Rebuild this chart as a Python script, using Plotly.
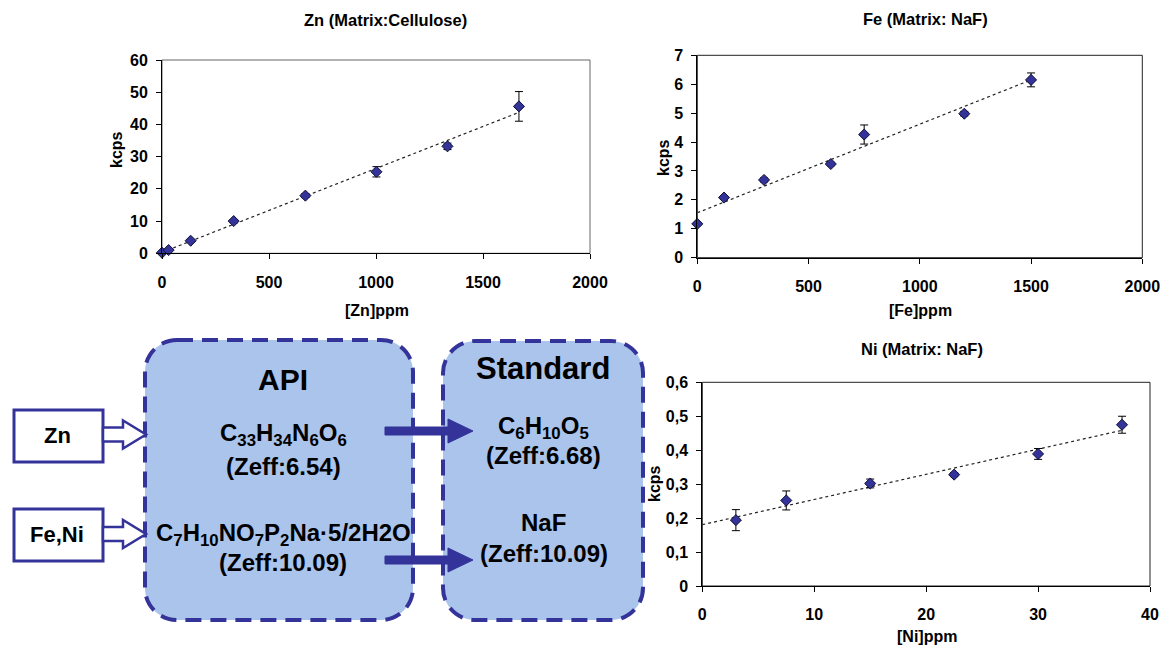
import numpy as np
import plotly.graph_objects as go

W, H = 1176, 645
FONT = "Liberation Sans, Arial, sans-serif"
NAVY = "#333399"

# ---------------- data ----------------
zn_ppm = [0, 31, 134, 335, 670, 1002, 1334, 1668]
zn_kcps = [0.2, 1.0, 3.9, 10.0, 17.9, 25.3, 33.2, 45.6]
zn_err = [0.3, 0.3, 0.4, 0.5, 0.6, 1.6, 1.0, 4.6]

fe_ppm = [0, 120, 300, 600, 750, 1200, 1500]
fe_kcps = [1.17, 2.08, 2.69, 3.24, 4.26, 4.98, 6.15]
fe_err = [0.05, 0.06, 0.07, 0.06, 0.33, 0.08, 0.24]

ni_ppm = [3, 7.5, 15, 22.5, 30, 37.5]
ni_kcps = [0.194, 0.252, 0.302, 0.328, 0.389, 0.475]
ni_err = [0.031, 0.028, 0.013, 0.006, 0.016, 0.025]

ni_tickvals = [0, 0.1, 0.2, 0.3, 0.4, 0.5, 0.6]
ni_ticktext = ["0", "0,1", "0,2", "0,3", "0,4", "0,5", "0,6"]

titles = ["Zn (Matrix:Cellulose)", "Fe (Matrix: NaF)", "Ni (Matrix: NaF)"]
xtitles = ["[Zn]ppm", "[Fe]ppm", "[Ni]ppm"]
ytitle = "kcps"

# ---------------- helpers ----------------
def px(x):
    return x / W

def py(y):
    return 1 - y / H

def trend(x, y):
    m, b = np.polyfit(x, y, 1)
    xs = np.array([0.0, float(max(x))])
    return xs, m * xs + b

fig = go.Figure()

panels = [
    (zn_ppm, zn_kcps, zn_err, "x", "y"),
    (fe_ppm, fe_kcps, fe_err, "x2", "y2"),
    (ni_ppm, ni_kcps, ni_err, "x3", "y3"),
]
for xs, ys, es, xa, ya in panels:
    tx, ty = trend(xs, ys)
    fig.add_trace(go.Scatter(x=tx, y=ty, mode="lines", xaxis=xa, yaxis=ya,
                             line=dict(color="#222222", width=1.2, dash="dot"),
                             showlegend=False, hoverinfo="skip"))
    fig.add_trace(go.Scatter(x=xs, y=ys, mode="markers", xaxis=xa, yaxis=ya,
                             cliponaxis=False,
                             marker=dict(symbol="diamond", size=8.5, color=NAVY,
                                         line=dict(color="#111133", width=1)),
                             error_y=dict(type="data", array=es, visible=True,
                                          color="black", thickness=1, width=4),
                             showlegend=False))

tickfont = dict(family=FONT, size=16, color="black", weight="bold")

def xaxis(domain, rng, dtick, anchor):
    return dict(domain=domain, range=rng, dtick=dtick, anchor=anchor,
                showline=True, linecolor="black", linewidth=1,
                ticks="outside", ticklen=5, tickcolor="black",
                showgrid=False, zeroline=False, tickfont=tickfont,
                ticklabelstandoff=9, fixedrange=True)

def yaxis(domain, rng, dtick, anchor, **kw):
    d = dict(domain=domain, range=rng, dtick=dtick, anchor=anchor,
             showline=True, linecolor="black", linewidth=1,
             ticks="outside", ticklen=5, tickcolor="black",
             showgrid=False, zeroline=False, tickfont=tickfont,
             ticklabelstandoff=5, fixedrange=True)
    d.update(kw)
    return d

fig.update_layout(
    width=W, height=H,
    margin=dict(l=0, r=0, t=0, b=0, autoexpand=False),
    paper_bgcolor="white", plot_bgcolor="white",
    xaxis=xaxis([px(162), px(590)], [0, 2000], 500, "y"),
    yaxis=yaxis([py(253.3), py(60)], [0, 60], 10, "x"),
    xaxis2=xaxis([px(697.3), px(1142.3)], [0, 2000], 500, "y2"),
    yaxis2=yaxis([py(257.7), py(55.3)], [0, 7], 1, "x2"),
    xaxis3=xaxis([px(702.3), px(1150)], [0, 40], 10, "y3"),
    yaxis3=yaxis([py(586), py(382.3)], [0, 0.6], None, "x3",
                 tickmode="array", tickvals=ni_tickvals, ticktext=ni_ticktext),
)

shapes = []
for xa, ya, col in [("x", "y", "#666666"), ("x2", "y2", "#222222"), ("x3", "y3", "#222222")]:
    shapes.append(dict(type="rect", xref=f"{xa} domain", yref=f"{ya} domain",
                       x0=0, x1=1, y0=0, y1=1, line=dict(color=col, width=1),
                       layer="below"))

def rounded_path(x0, y0, x1, y1, r):
    k = 0.5523 * r
    P = lambda x, y: f"{px(x):.5f},{py(y):.5f}"
    return (f"M {P(x0 + r, y0)} L {P(x1 - r, y0)} "
            f"C {P(x1 - r + k, y0)} {P(x1, y0 + r - k)} {P(x1, y0 + r)} "
            f"L {P(x1, y1 - r)} "
            f"C {P(x1, y1 - r + k)} {P(x1 - r + k, y1)} {P(x1 - r, y1)} "
            f"L {P(x0 + r, y1)} "
            f"C {P(x0 + r - k, y1)} {P(x0, y1 - r + k)} {P(x0, y1 - r)} "
            f"L {P(x0, y0 + r)} "
            f"C {P(x0, y0 + r - k)} {P(x0 + r - k, y0)} {P(x0 + r, y0)} Z")

def poly(points):
    s = " L ".join(f"{px(x):.5f},{py(y):.5f}" for x, y in points)
    return f"M {s} Z"

FILL = "#AAC4EC"
for box in [(145, 340, 413, 620), (443, 341, 643, 620)]:
    shapes.append(dict(type="path", xref="paper", yref="paper",
                       path=rounded_path(*box, 32), fillcolor=FILL,
                       line=dict(color=NAVY, width=4, dash="16px,9px")))

for y0, y1 in [(410, 462), (509, 561)]:
    shapes.append(dict(type="rect", xref="paper", yref="paper",
                       x0=px(14), x1=px(103), y0=py(y1), y1=py(y0),
                       fillcolor="white", line=dict(color=NAVY, width=3)))

for yc in [434.5, 534]:
    pts = [(103, yc - 7), (123, yc - 7), (123, yc - 14), (146, yc),
           (123, yc + 14), (123, yc + 7), (103, yc + 7)]
    shapes.append(dict(type="path", xref="paper", yref="paper", path=poly(pts),
                       fillcolor="white", line=dict(color=NAVY, width=2.5)))

for yc in [431, 560]:
    pts = [(385, yc - 4), (448, yc - 4), (448, yc - 12), (473, yc),
           (448, yc + 12), (448, yc + 4), (385, yc + 4)]
    shapes.append(dict(type="path", xref="paper", yref="paper", path=poly(pts),
                       fillcolor=NAVY, line=dict(color=NAVY, width=1)))

fig.update_layout(shapes=shapes)

def txt(x, y, text, size, angle=0):
    return dict(x=px(x), y=py(y), xref="paper", yref="paper", text=text,
                showarrow=False, textangle=angle, xanchor="center", yanchor="middle",
                font=dict(family=FONT, size=size, color="black", weight="bold"))

ann = [
    txt(385, 20, titles[0], 16.5),
    txt(925, 19, titles[1], 16.5),
    txt(922, 349, titles[2], 16.5),
    txt(377, 310, xtitles[0], 16),
    txt(920, 310, xtitles[1], 16),
    txt(927, 636, xtitles[2], 16),
    txt(117, 150, ytitle, 16, -90),
    txt(664, 158, ytitle, 16, -90),
    txt(654, 484, ytitle, 16, -90),
    # diagram
    txt(283, 379, "API", 30),
    txt(283, 434, "C<sub>33</sub>H<sub>34</sub>N<sub>6</sub>O<sub>6</sub>", 24),
    txt(283, 466, "(Zeff:6.54)", 24),
    txt(283, 534, "C<sub>7</sub>H<sub>10</sub>NO<sub>7</sub>P<sub>2</sub>Na·5/2H2O", 24),
    txt(283, 562, "(Zeff:10.09)", 24),
    txt(543, 368, "Standard", 31),
    txt(543, 427, "C<sub>6</sub>H<sub>10</sub>O<sub>5</sub>", 24),
    txt(543, 455, "(Zeff:6.68)", 24),
    txt(543, 522, "NaF", 24),
    txt(544, 553, "(Zeff:10.09)", 24),
    txt(57, 435, "Zn", 22),
    txt(57, 534, "Fe,Ni", 22),
]
fig.update_layout(annotations=ann)

fig.write_html(
    "out.html",
    config={"displayModeBar": False},
    post_script="document.body.style.margin='0';document.body.style.padding='0';"
                "document.documentElement.style.overflow='hidden';",
)
